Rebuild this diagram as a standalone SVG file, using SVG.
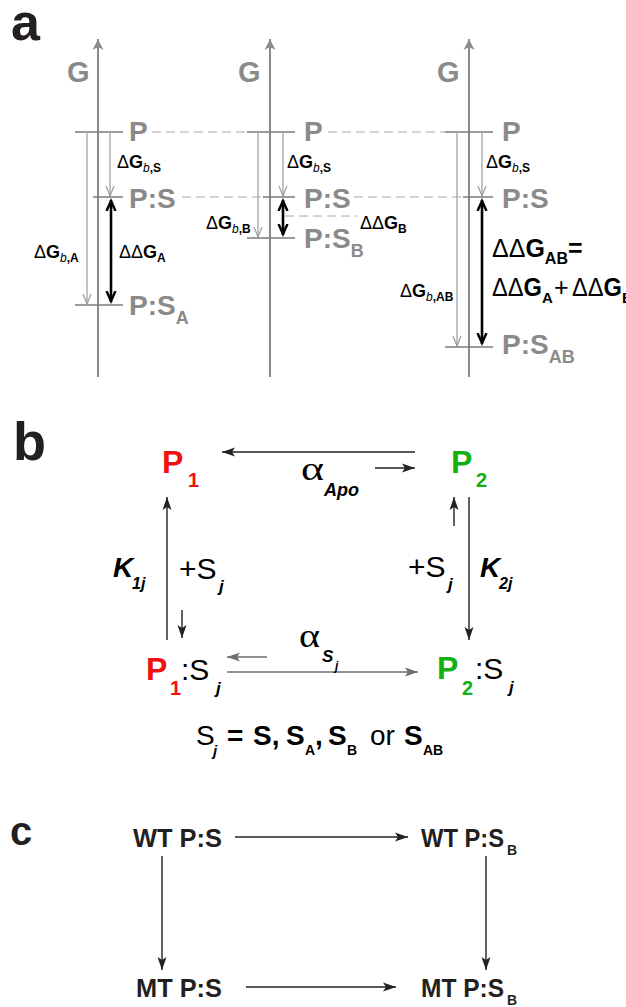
<svg xmlns="http://www.w3.org/2000/svg" width="626" height="1007" viewBox="0 0 626 1007">
<style>
text{font-family:"Liberation Sans",Arial,sans-serif}
.panel{font-weight:bold;fill:#231f20}
.g{font-weight:bold;fill:#8a8a8a;font-size:29px}
.lv{font-weight:bold;fill:#8a8a8a;font-size:28px}
.axis{stroke:#8a8a8a;stroke-width:2;fill:none}
.level{stroke:#7a7a7a;stroke-width:1.5;fill:none}
.dash{stroke:#a8a8a8;stroke-width:1;stroke-dasharray:9 5;fill:none}
.thin{stroke:#9a9a9a;stroke-width:1.2;fill:none}
.thick{stroke:#000;stroke-width:2.6;fill:none}
.dl{font-size:18px;fill:#000}
.dlb{font-size:25px;fill:#000}
.b{font-weight:bold}
.i{font-style:italic}
.n{font-weight:normal}
.arr{stroke:#222;stroke-width:1.4;fill:none}
.arrg{stroke:#6e6e6e;stroke-width:1.4;fill:none}
.alpha{font-family:"Liberation Serif","DejaVu Serif",serif;font-size:34px;font-weight:normal;font-style:normal;fill:#000}
.bt{font-size:30px;fill:#000}
.pp{font-size:32px;font-weight:bold}
.ft{font-size:28px;fill:#000}
.ct{font-weight:bold;font-size:26px;fill:#231f20}
.red{fill:#f01010}
.grn{fill:#12b012}
</style>
<defs>
<marker id="mAxis" markerUnits="userSpaceOnUse" markerWidth="14" markerHeight="14" refX="11" refY="6" orient="auto"><path d="M0,0.5 L11,6 L0,11.5 L3,6 Z" fill="#8a8a8a"/></marker>
<marker id="mThin" markerUnits="userSpaceOnUse" markerWidth="12" markerHeight="12" refX="10" refY="5" orient="auto"><path d="M0,1 L10,5 L0,9" fill="none" stroke="#9a9a9a" stroke-width="1.2"/></marker>
<marker id="mThick" markerUnits="userSpaceOnUse" markerWidth="14" markerHeight="14" refX="11" refY="6" orient="auto-start-reverse"><path d="M0,1.5 L10,6 L0,10.5" fill="none" stroke="#000" stroke-width="2.4"/></marker>
<marker id="mB" markerUnits="userSpaceOnUse" markerWidth="16" markerHeight="12" refX="13" refY="5" orient="auto"><path d="M0,0.5 L13,5 L0,9.5 L3,5 Z" fill="#222"/></marker>
<marker id="mG" markerUnits="userSpaceOnUse" markerWidth="16" markerHeight="12" refX="13" refY="5" orient="auto"><path d="M0,0.5 L13,5 L0,9.5 L3,5 Z" fill="#6e6e6e"/></marker>
</defs>

<!-- Panel a -->
<text class="panel" x="11" y="40" style="font-size:52px">a</text>

<g id="connectors-a">
  <line class="axis" x1="98" y1="377" x2="98" y2="39" marker-end="url(#mAxis)"/>
  <line class="axis" x1="270" y1="377" x2="270" y2="39" marker-end="url(#mAxis)"/>
  <line class="axis" x1="469" y1="377" x2="469" y2="39" marker-end="url(#mAxis)"/>
  <line class="dash" x1="152" y1="132" x2="247" y2="132"/>
  <line class="dash" x1="328" y1="132" x2="445" y2="132"/>
  <line class="dash" x1="182" y1="197" x2="263" y2="197"/>
  <line class="dash" x1="354" y1="197" x2="463" y2="197"/>
  <line class="dash" x1="285" y1="216" x2="358" y2="216"/>
  <line class="thin" x1="110" y1="133" x2="110" y2="196" marker-end="url(#mThin)"/>
  <line class="thin" x1="87" y1="133" x2="87" y2="304" marker-end="url(#mThin)"/>
  <line class="thick" x1="111" y1="200" x2="111" y2="302" marker-start="url(#mThick)" marker-end="url(#mThick)"/>
  <line class="thin" x1="283" y1="133" x2="283" y2="196" marker-end="url(#mThin)"/>
  <line class="thin" x1="258" y1="133" x2="258" y2="237" marker-end="url(#mThin)"/>
  <line class="thick" x1="283" y1="200" x2="283" y2="235" marker-start="url(#mThick)" marker-end="url(#mThick)"/>
  <line class="thin" x1="482" y1="133" x2="482" y2="196" marker-end="url(#mThin)"/>
  <line class="thin" x1="457" y1="133" x2="457" y2="346" marker-end="url(#mThin)"/>
  <line class="thick" x1="482" y1="200" x2="482" y2="344" marker-start="url(#mThick)" marker-end="url(#mThick)"/>
</g>

<g id="col1">
  <text class="g" x="67" y="82">G</text>
  <line class="level" x1="75" y1="132" x2="123" y2="132"/>
  <text class="lv" x="129" y="141">P</text>
  <line class="level" x1="93" y1="197" x2="123" y2="197"/>
  <text class="lv" x="129" y="208">P:S</text>
  <line class="level" x1="75" y1="305" x2="123" y2="305"/>
  <text class="lv" x="129" y="315">P:S<tspan style="font-size:18px" dy="9">A</tspan></text>
  <text class="dl" x="117" y="168">Δ<tspan class="b">G</tspan><tspan style="font-size:12px" dy="4" class="b"><tspan class="i n">b</tspan>,S</tspan></text>
  <text class="dl" x="34" y="258">Δ<tspan class="b">G</tspan><tspan style="font-size:12px" dy="4" class="b"><tspan class="i n">b</tspan>,A</tspan></text>
  <text class="dl" x="119" y="258">ΔΔ<tspan class="b">G</tspan><tspan style="font-size:12px" dy="4" class="b">A</tspan></text>
</g>

<g id="col2">
  <text class="g" x="238" y="82">G</text>
  <line class="level" x1="247" y1="132" x2="295" y2="132"/>
  <text class="lv" x="304" y="141">P</text>
  <line class="level" x1="263" y1="197" x2="295" y2="197"/>
  <text class="lv" x="304" y="208">P:S</text>
  <line class="level" x1="247" y1="238" x2="295" y2="238"/>
  <text class="lv" x="304" y="248">P:S<tspan style="font-size:18px" dy="9">B</tspan></text>
  <text class="dl" x="287" y="168">Δ<tspan class="b">G</tspan><tspan style="font-size:12px" dy="4" class="b"><tspan class="i n">b</tspan>,S</tspan></text>
  <text class="dl" x="206" y="229">Δ<tspan class="b">G</tspan><tspan style="font-size:12px" dy="4" class="b"><tspan class="i n">b</tspan>,B</tspan></text>
  <text class="dl" x="360" y="229">ΔΔ<tspan class="b">G</tspan><tspan style="font-size:12px" dy="4" class="b">B</tspan></text>
</g>

<g id="col3">
  <text class="g" x="437" y="82">G</text>
  <line class="level" x1="445" y1="132" x2="493" y2="132"/>
  <text class="lv" x="502" y="141">P</text>
  <line class="level" x1="463" y1="197" x2="493" y2="197"/>
  <text class="lv" x="502" y="208">P:S</text>
  <line class="level" x1="445" y1="347" x2="493" y2="347"/>
  <text class="lv" x="502" y="354">P:S<tspan style="font-size:18px" dy="9">AB</tspan></text>
  <text class="dl" x="486" y="168">Δ<tspan class="b">G</tspan><tspan style="font-size:12px" dy="4" class="b"><tspan class="i n">b</tspan>,S</tspan></text>
  <text class="dl" x="400" y="297">Δ<tspan class="b">G</tspan><tspan style="font-size:12px" dy="4" class="b"><tspan class="i n">b</tspan>,AB</tspan></text>
  <text class="dlb" x="492" y="257">ΔΔ<tspan class="b">G</tspan><tspan style="font-size:16px" dy="7" class="b">AB</tspan><tspan dy="-7" class="b">=</tspan></text>
  <text class="dlb" x="492" y="296" textLength="50" lengthAdjust="spacingAndGlyphs">ΔΔ<tspan class="b">G</tspan></text>
  <text class="dlb b" x="542" y="303" style="font-size:15px">A</text>
  <text class="dlb" x="554" y="296">+</text>
  <text class="dlb" x="572" y="296" textLength="50" lengthAdjust="spacingAndGlyphs">ΔΔ<tspan class="b">G</tspan></text>
  <text class="dlb b" x="622" y="303" style="font-size:15px">B</text>
</g>

<!-- Panel b -->
<text class="panel" x="13" y="460" style="font-size:54px">b</text>

<g id="connectors-b">
  <line class="arr" x1="415" y1="452" x2="222" y2="452" marker-end="url(#mB)"/>
  <line class="arr" x1="375" y1="468" x2="415" y2="468" marker-end="url(#mB)"/>
  <line class="arr" x1="167" y1="640" x2="167" y2="497" marker-end="url(#mB)" stroke="#444"/>
  <line class="arr" x1="182" y1="610" x2="182" y2="638" marker-end="url(#mB)"/>
  <line class="arr" x1="469" y1="497" x2="469" y2="640" marker-end="url(#mB)" stroke="#444"/>
  <line class="arr" x1="454" y1="526" x2="454" y2="497" marker-end="url(#mB)"/>
  <line class="arrg" x1="267" y1="657" x2="227" y2="657" marker-end="url(#mG)"/>
  <line class="arrg" x1="227" y1="672" x2="418" y2="672" marker-end="url(#mG)"/>
</g>

<g id="P1">
  <text class="pp red" x="162" y="473">P<tspan style="font-size:20px" x="188" y="487">1</tspan></text>
</g>
<g id="P2">
  <text class="pp grn" x="451" y="473">P<tspan style="font-size:20px" x="476" y="487">2</tspan></text>
</g>
<g id="P1Sj">
  <text class="pp red" x="146" y="680">P<tspan style="font-size:20px" x="170" y="695">1</tspan></text>
  <text class="bt" x="181" y="680">:S<tspan class="b i" style="font-size:17px" x="216" y="694">j</tspan></text>
</g>
<g id="P2Sj">
  <text class="pp grn" x="437" y="679">P<tspan style="font-size:20px" x="462" y="695">2</tspan></text>
  <text class="bt" x="475" y="679">:S<tspan class="b i" style="font-size:17px" x="509" y="693">j</tspan></text>
</g>
<g id="labels-b">
  <text class="alpha" x="301" y="480" textLength="23" lengthAdjust="spacingAndGlyphs">α</text>
  <text class="b i" x="324" y="496" style="font-size:18px">Apo</text>
  <text class="alpha" x="299" y="647" textLength="21" lengthAdjust="spacingAndGlyphs">α</text>
  <text class="b i" x="322" y="662" style="font-size:17px">S<tspan style="font-size:12px" x="335" y="670">j</tspan></text>
  <text class="b i" x="113" y="577" style="font-size:28px">K<tspan style="font-size:16px" x="132" y="589">1j</tspan></text>
  <text class="b i" x="480" y="577" style="font-size:28px">K<tspan style="font-size:16px" x="499" y="589">2j</tspan></text>
  <text class="bt" x="179" y="579">+S<tspan class="b i" style="font-size:17px" x="219" y="592">j</tspan></text>
  <text class="bt" x="408" y="577">+S<tspan class="b i" style="font-size:17px" x="448" y="590">j</tspan></text>
</g>
<g id="formula">
  <text class="ft" x="196" y="745">S</text>
  <text class="ft b i" x="213" y="756" style="font-size:15px">j</text>
  <text class="ft b" x="227" y="745">=</text>
  <text class="ft b" x="253" y="745">S,</text>
  <text class="ft b" x="286" y="745">S</text>
  <text class="ft b" x="305" y="755" style="font-size:14px">A</text>
  <text class="ft b" x="315" y="745">,</text>
  <text class="ft b" x="328" y="745">S</text>
  <text class="ft b" x="347" y="755" style="font-size:14px">B</text>
  <text class="ft" x="370" y="745">or</text>
  <text class="ft b" x="404" y="745">S</text>
  <text class="ft b" x="423" y="755" style="font-size:14px">AB</text>
</g>

<!-- Panel c -->
<text class="panel" x="10" y="845" style="font-size:40px">c</text>
<g id="connectors-c">
  <line class="arr" x1="235" y1="837" x2="408" y2="837" marker-end="url(#mB)"/>
  <line class="arr" x1="162" y1="856" x2="162" y2="970" marker-end="url(#mB)"/>
  <line class="arr" x1="486" y1="856" x2="486" y2="970" marker-end="url(#mB)"/>
  <line class="arr" x1="246" y1="987" x2="396" y2="987" marker-end="url(#mB)"/>
</g>
<g id="wt-ps"><text class="ct" x="133" y="847" textLength="89" lengthAdjust="spacingAndGlyphs">WT P:S</text></g>
<g id="wt-psb"><text class="ct" x="421" y="847" textLength="83" lengthAdjust="spacingAndGlyphs">WT P:S</text><text class="ct" x="507" y="855" style="font-size:14px">B</text></g>
<g id="mt-ps"><text class="ct" x="136" y="997" textLength="86" lengthAdjust="spacingAndGlyphs">MT P:S</text></g>
<g id="mt-psb"><text class="ct" x="421" y="997" textLength="83" lengthAdjust="spacingAndGlyphs">MT P:S</text><text class="ct" x="507" y="1005" style="font-size:14px">B</text></g>
</svg>
